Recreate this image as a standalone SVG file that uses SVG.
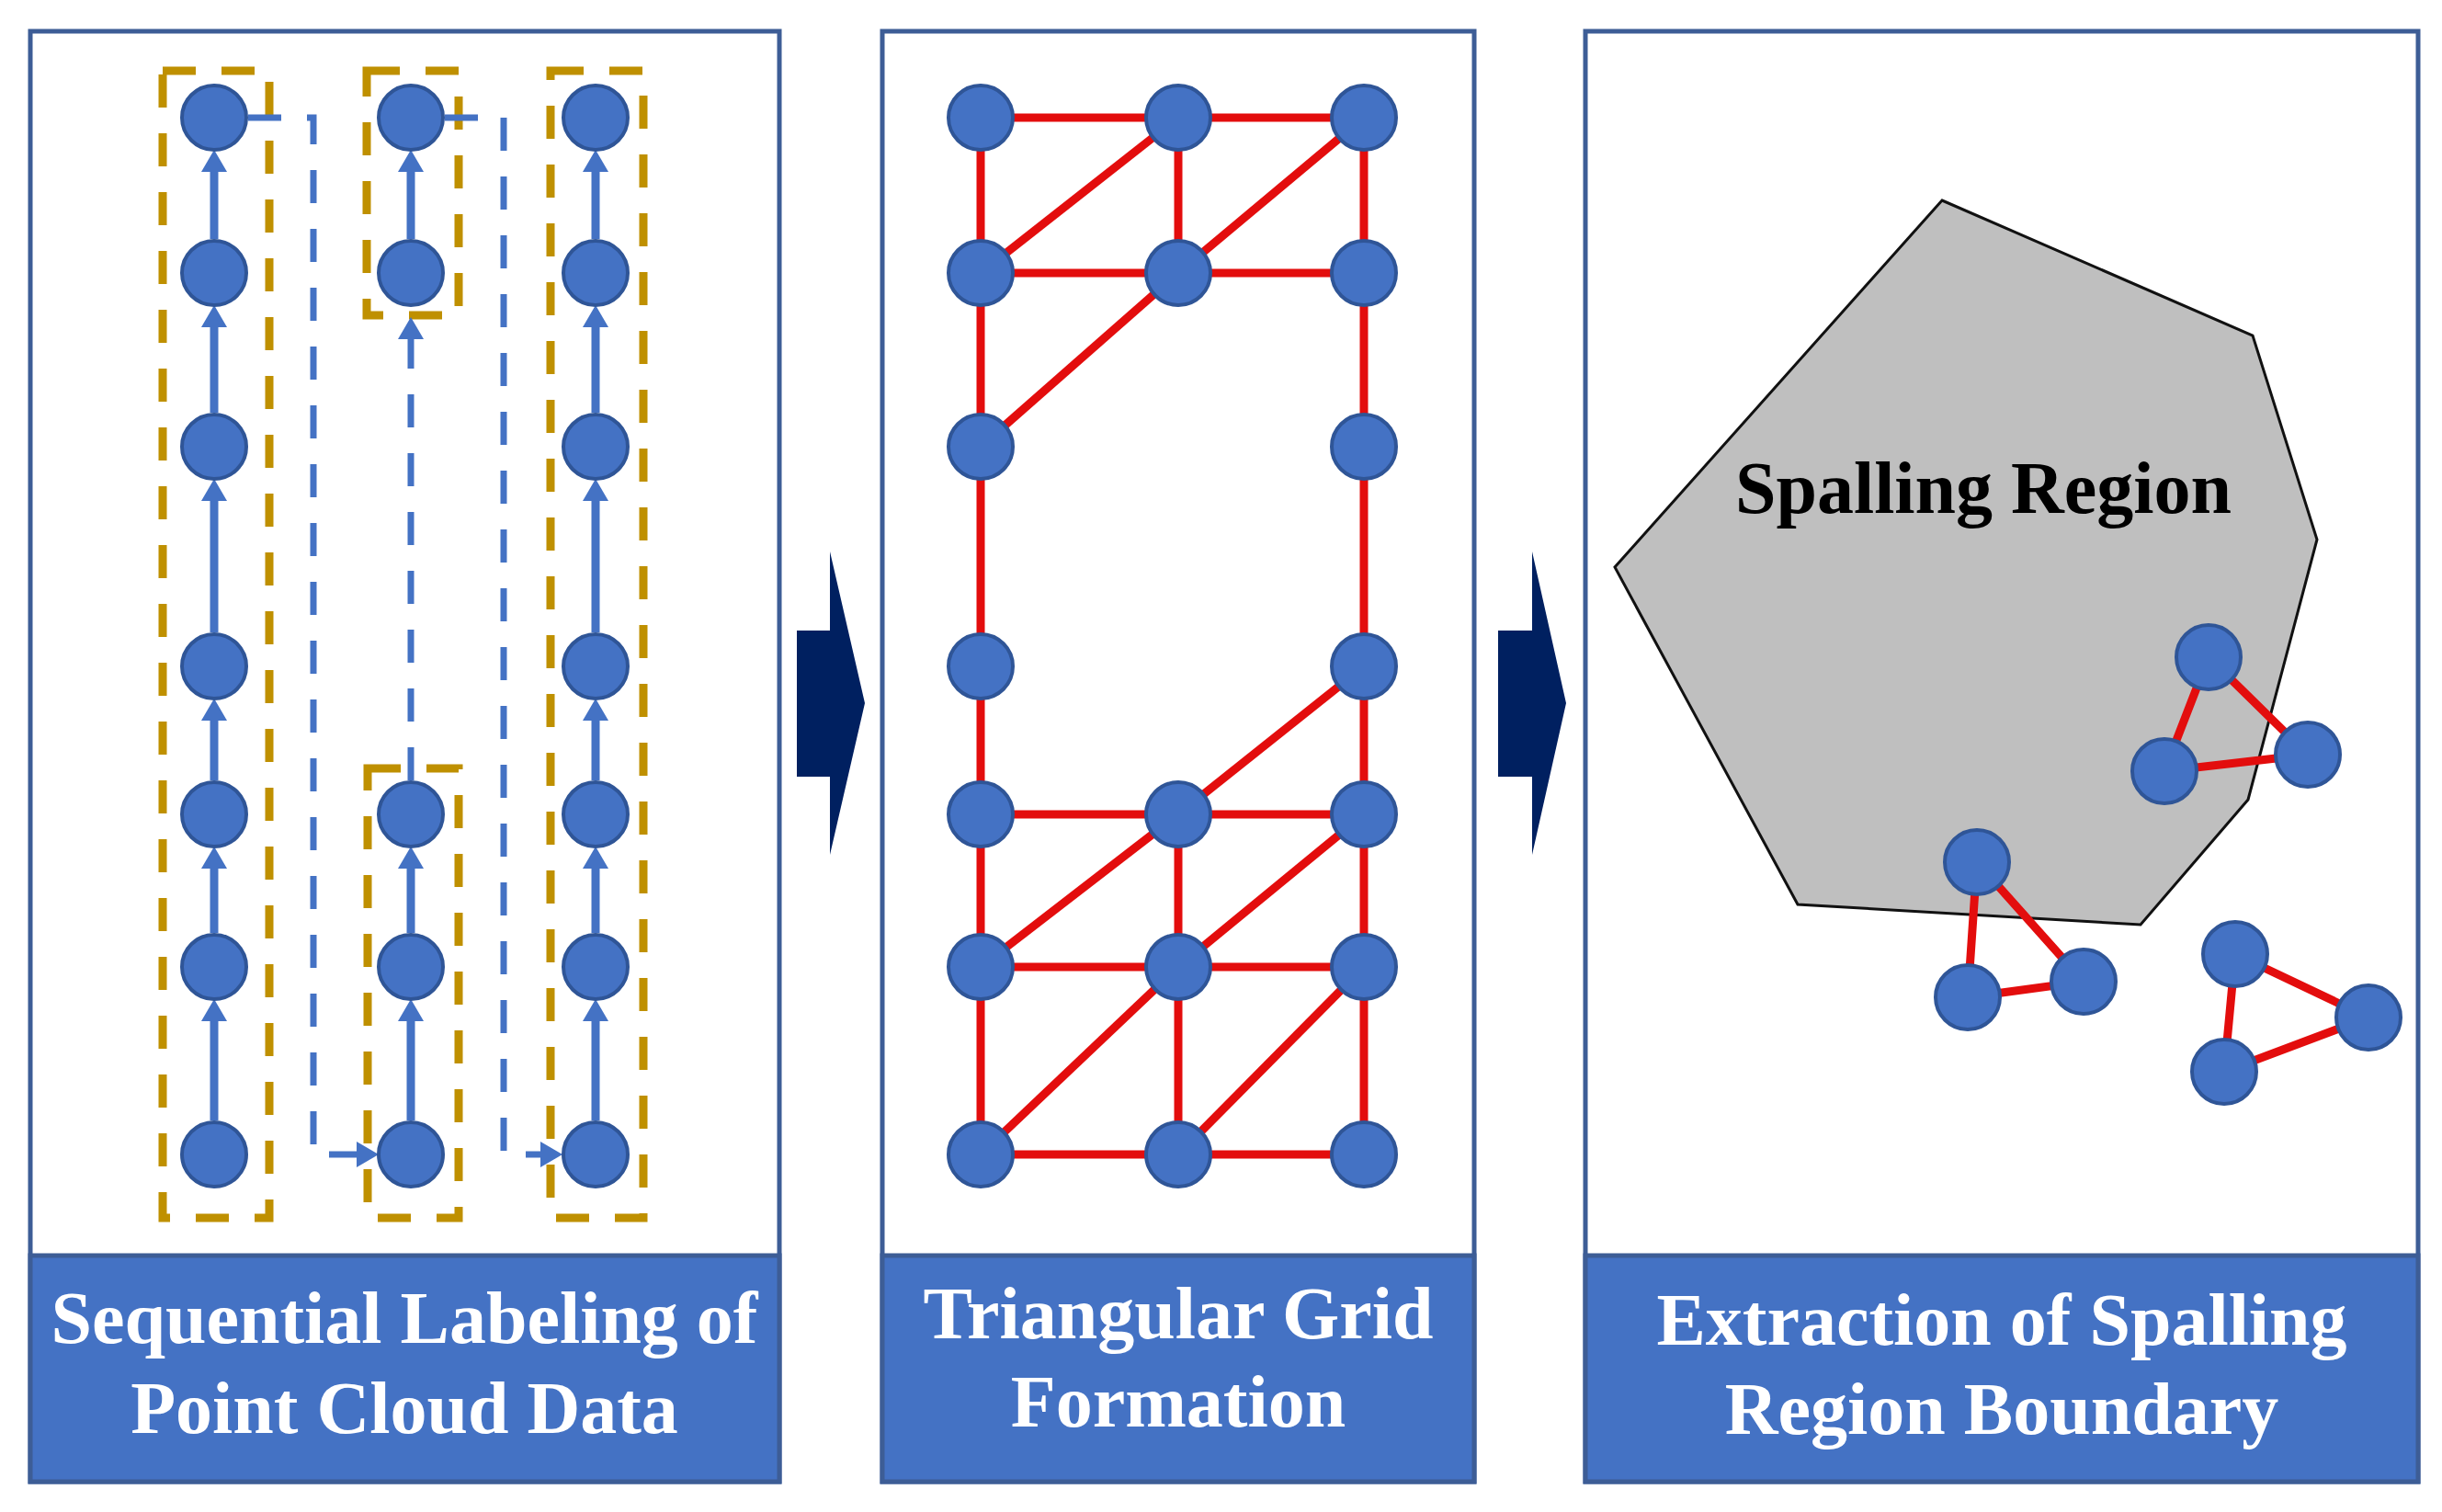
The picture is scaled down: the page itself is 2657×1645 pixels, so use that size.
<svg xmlns="http://www.w3.org/2000/svg" width="2657" height="1645" viewBox="0 0 2657 1645">
<defs>
<style>
.panel{fill:#ffffff;stroke:#3d5d96;stroke-width:5}
.cap{fill:#4472c4;stroke:#3d5d96;stroke-width:5}
.capt{font-family:"Liberation Serif","Times New Roman",serif;font-weight:bold;font-size:80px;fill:#ffffff;text-anchor:middle}
.nd{fill:#4472c4;stroke:#2f5597;stroke-width:4}
.ybox{fill:none;stroke:#bf9000;stroke-width:9;stroke-dasharray:36 28}
.sol{fill:none;stroke:#4472c4;stroke-width:9;marker-end:url(#ah)}
.dsh{fill:none;stroke:#4472c4;stroke-width:7;stroke-dasharray:36 28;marker-end:url(#ah)}
.red{stroke:#e30d0d;stroke-width:9;fill:none}
.big{fill:#002060}
</style>
<marker id="ah" markerUnits="userSpaceOnUse" markerWidth="24" markerHeight="28" viewBox="0 0 24 28" refX="12" refY="14" orient="auto">
<path d="M0,0 L24,14 L0,28 z" fill="#4472c4"/>
</marker>
</defs>
<rect width="2657" height="1645" fill="#ffffff"/>

<g id="panel1">
<rect class="panel" x="33" y="34" width="815" height="1578"/>
<rect class="cap" x="33" y="1366" width="815" height="246"/>
<text class="capt" x="440" y="1461">Sequential Labeling of</text>
<text class="capt" x="440" y="1559">Point Cloud Data</text>
<rect class="ybox" x="177" y="77" width="116" height="1248"/>
<rect class="ybox" x="399" y="77" width="100" height="266"/>
<rect class="ybox" x="400" y="836" width="99" height="489"/>
<rect class="ybox" x="599" y="77" width="101" height="1248"/>
</g>

<g id="panel2">
<rect class="panel" x="960" y="34" width="644" height="1578"/>
<rect class="cap" x="960" y="1366" width="644" height="246"/>
<text class="capt" x="1282" y="1456">Triangular Grid</text>
<text class="capt" x="1282" y="1552">Formation</text>
</g>

<g id="panel3">
<rect class="panel" x="1725" y="34" width="906" height="1578"/>
<rect class="cap" x="1725" y="1366" width="906" height="246"/>
<text class="capt" x="2178" y="1463">Extraction of Spalling</text>
<text class="capt" x="2178" y="1560">Region Boundary</text>
<polygon id="spalling" points="2113,218 2451,365 2521,587 2446,870 2329,1006 1956,984 1757,617" fill="#bfbfbf" stroke="#111111" stroke-width="3"/>
<text x="2158" y="558" font-family="Liberation Serif, Times New Roman, serif" font-weight="bold" font-size="80" fill="#000000" text-anchor="middle">Spalling Region</text>
</g>

<g id="arrows">
<path class="big" d="M867,686 H903 V600 L941,765 L903,930 V845 H867 z"/>
<path class="big" d="M1630,686 H1667 V600 L1704,765 L1667,930 V845 H1630 z"/>
</g>

<g id="connectors">
<!-- panel 1 solid arrows -->
<path class="sol" d="M233,1219 V1099"/>
<path class="sol" d="M233,1015 V933"/>
<path class="sol" d="M233,849 V772"/>
<path class="sol" d="M233,688 V533"/>
<path class="sol" d="M233,449 V344"/>
<path class="sol" d="M233,260 V175"/>
<path class="sol" d="M447,260 V175"/>
<path class="sol" d="M447,1219 V1099"/>
<path class="sol" d="M447,1015 V933"/>
<path class="sol" d="M648,1219 V1099"/>
<path class="sol" d="M648,1015 V933"/>
<path class="sol" d="M648,849 V772"/>
<path class="sol" d="M648,688 V533"/>
<path class="sol" d="M648,449 V344"/>
<path class="sol" d="M648,260 V175"/>
<!-- panel 1 dashed arrows -->
<path class="dsh" d="M270,128 H341 V1256 H400"/>
<path class="dsh" d="M484,128 H548 V1256 H600"/>
<path class="dsh" d="M447,849 V357"/>
<!-- panel 2 grid -->
<g class="red">
<line x1="1067" y1="128" x2="1484" y2="128"/>
<line x1="1067" y1="297" x2="1484" y2="297"/>
<line x1="1067" y1="128" x2="1067" y2="1256"/>
<line x1="1484" y1="128" x2="1484" y2="1256"/>
<line x1="1282" y1="128" x2="1282" y2="297"/>
<line x1="1067" y1="297" x2="1282" y2="128"/>
<line x1="1282" y1="297" x2="1484" y2="128"/>
<line x1="1067" y1="486" x2="1282" y2="297"/>
<line x1="1282" y1="886" x2="1484" y2="725"/>
<line x1="1067" y1="886" x2="1484" y2="886"/>
<line x1="1067" y1="1052" x2="1484" y2="1052"/>
<line x1="1067" y1="1256" x2="1484" y2="1256"/>
<line x1="1282" y1="886" x2="1282" y2="1256"/>
<line x1="1067" y1="1052" x2="1282" y2="886"/>
<line x1="1282" y1="1052" x2="1484" y2="886"/>
<line x1="1067" y1="1256" x2="1282" y2="1052"/>
<line x1="1282" y1="1256" x2="1484" y2="1052"/>
<!-- panel 3 triangles -->
<polygon points="2403,715 2355,839 2511,821"/>
<polygon points="2151,938 2141,1085 2267,1068"/>
<polygon points="2432,1038 2577,1107 2420,1166"/>
</g>
</g>

<g id="nodes">
<g id="p1-nodes">
<circle class="nd" cx="233" cy="128" r="35"/>
<circle class="nd" cx="233" cy="297" r="35"/>
<circle class="nd" cx="233" cy="486" r="35"/>
<circle class="nd" cx="233" cy="725" r="35"/>
<circle class="nd" cx="233" cy="886" r="35"/>
<circle class="nd" cx="233" cy="1052" r="35"/>
<circle class="nd" cx="233" cy="1256" r="35"/>
<circle class="nd" cx="447" cy="128" r="35"/>
<circle class="nd" cx="447" cy="297" r="35"/>
<circle class="nd" cx="447" cy="886" r="35"/>
<circle class="nd" cx="447" cy="1052" r="35"/>
<circle class="nd" cx="447" cy="1256" r="35"/>
<circle class="nd" cx="648" cy="128" r="35"/>
<circle class="nd" cx="648" cy="297" r="35"/>
<circle class="nd" cx="648" cy="486" r="35"/>
<circle class="nd" cx="648" cy="725" r="35"/>
<circle class="nd" cx="648" cy="886" r="35"/>
<circle class="nd" cx="648" cy="1052" r="35"/>
<circle class="nd" cx="648" cy="1256" r="35"/>
</g>
<g id="p2-nodes">
<circle class="nd" cx="1067" cy="128" r="35"/>
<circle class="nd" cx="1282" cy="128" r="35"/>
<circle class="nd" cx="1484" cy="128" r="35"/>
<circle class="nd" cx="1067" cy="297" r="35"/>
<circle class="nd" cx="1282" cy="297" r="35"/>
<circle class="nd" cx="1484" cy="297" r="35"/>
<circle class="nd" cx="1067" cy="486" r="35"/>
<circle class="nd" cx="1484" cy="486" r="35"/>
<circle class="nd" cx="1067" cy="725" r="35"/>
<circle class="nd" cx="1484" cy="725" r="35"/>
<circle class="nd" cx="1067" cy="886" r="35"/>
<circle class="nd" cx="1282" cy="886" r="35"/>
<circle class="nd" cx="1484" cy="886" r="35"/>
<circle class="nd" cx="1067" cy="1052" r="35"/>
<circle class="nd" cx="1282" cy="1052" r="35"/>
<circle class="nd" cx="1484" cy="1052" r="35"/>
<circle class="nd" cx="1067" cy="1256" r="35"/>
<circle class="nd" cx="1282" cy="1256" r="35"/>
<circle class="nd" cx="1484" cy="1256" r="35"/>
</g>
<g id="p3-nodes">
<circle class="nd" cx="2403" cy="715" r="35"/>
<circle class="nd" cx="2355" cy="839" r="35"/>
<circle class="nd" cx="2511" cy="821" r="35"/>
<circle class="nd" cx="2151" cy="938" r="35"/>
<circle class="nd" cx="2141" cy="1085" r="35"/>
<circle class="nd" cx="2267" cy="1068" r="35"/>
<circle class="nd" cx="2432" cy="1038" r="35"/>
<circle class="nd" cx="2577" cy="1107" r="35"/>
<circle class="nd" cx="2420" cy="1166" r="35"/>
</g>
</g>
</svg>
